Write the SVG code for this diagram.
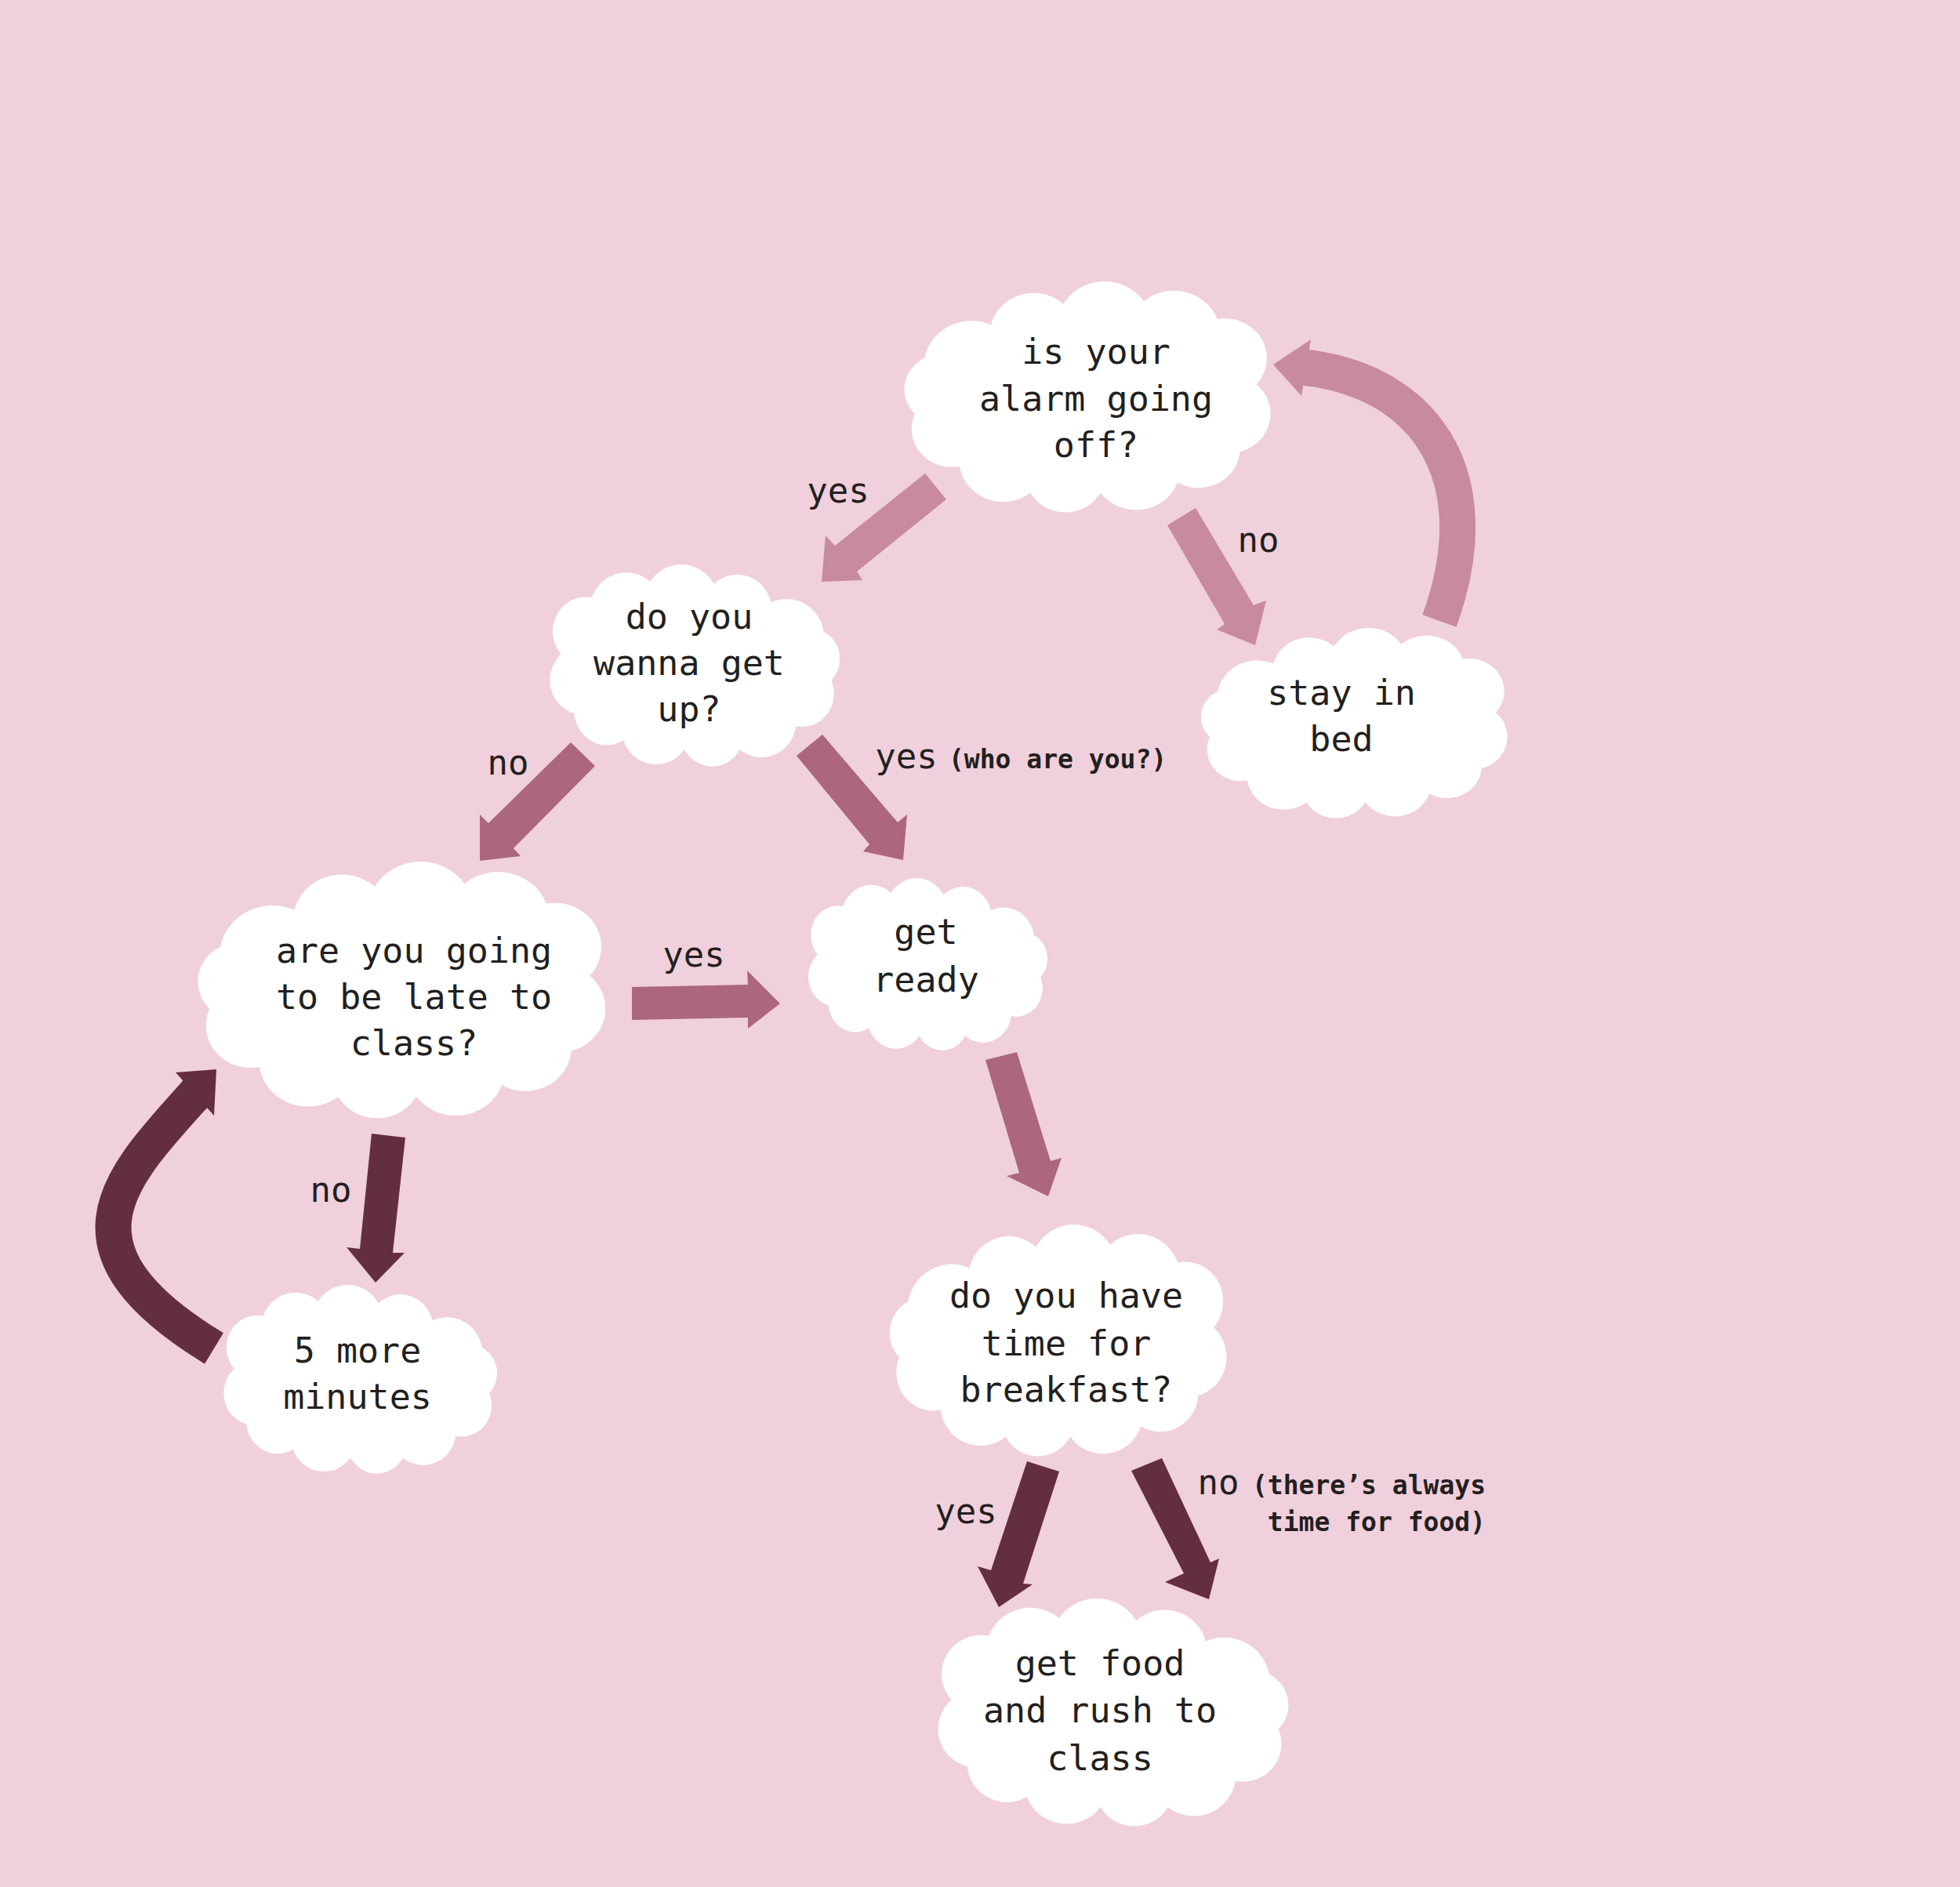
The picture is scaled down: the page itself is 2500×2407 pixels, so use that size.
<svg xmlns="http://www.w3.org/2000/svg" width="2500" height="2407" viewBox="0 0 2500 2407">
<style>
.t{font-family:"DejaVu Sans Mono","Liberation Mono",monospace;font-size:45px;fill:#231f20;text-anchor:middle}
.l{font-family:"DejaVu Sans Mono","Liberation Mono",monospace;font-size:44px;fill:#231f20;text-anchor:middle}
.s{font-family:"DejaVu Sans Mono","Liberation Mono",monospace;font-size:33px;font-weight:bold;fill:#231f20}
.a1{fill:#c78aa0}
.a2{fill:#ac6680}
.a3{fill:#642e42}
.c1{fill:none;stroke:#c78aa0;stroke-width:46}
.c3{fill:none;stroke:#642e42;stroke-width:46}
</style>
<defs>
<g id="cloud" fill="#ffffff">
<ellipse cx="0" cy="0" rx="115" ry="62"/>
<circle cx="-121" cy="-7" r="30"/>
<circle cx="-96" cy="-27" r="39"/>
<circle cx="-45" cy="-54" r="36"/>
<circle cx="13" cy="-61" r="39"/>
<circle cx="70" cy="-54" r="38"/>
<circle cx="112" cy="-34" r="34"/>
<circle cx="115" cy="14" r="34"/>
<circle cx="90" cy="44" r="34"/>
<circle cx="39" cy="61" r="36"/>
<circle cx="-19" cy="66" r="33"/>
<circle cx="-70" cy="54" r="36"/>
<circle cx="-112" cy="27" r="33"/>
</g>
</defs>
<rect x="0" y="0" width="2500" height="2407" fill="#f0d0dc"/>

<g id="connectors">
<polygon class="a1" points="1180,604 1065,696 1053,683 1048,742 1100,740 1093,729 1207,637"/>
<polygon class="a1" points="1489,670 1562,796 1552,803 1601,823 1615,766 1599,772 1525,648"/>
<path class="c1" d="M1836,792 C1904,604 1815,483 1658,468"/>
<polygon class="a1" points="1660,505 1624,465 1672,433"/>
<polygon class="a2" points="728,947 623,1050 612,1039 612,1098 664,1092 655,1082 759,977"/>
<polygon class="a2" points="1016,964 1109,1077 1101,1086 1152,1097 1157,1039 1145,1049 1049,937"/>
<polygon class="a2" points="806,1259 954,1256 953,1238 995,1280 954,1312 954,1298 806,1301"/>
<polygon class="a3" points="474,1446 459,1593 442,1591 479,1636 516,1598 501,1598 517,1451"/>
<path class="c3" d="M273,1720 C60,1590 154,1501 254,1390"/>
<polygon class="a3" points="224,1368 276,1364 273,1423"/>
<polygon class="a2" points="1257,1352 1300,1496 1284,1500 1337,1526 1354,1477 1340,1481 1297,1342"/>
<polygon class="a3" points="1310,1864 1264,2003 1247,1998 1274,2050 1317,2021 1305,2020 1351,1877"/>
<polygon class="a3" points="1443,1876 1510,2007 1486,2018 1542,2040 1555,1988 1544,1993 1482,1860"/>
</g>

<g id="labels">
<text class="l" x="1069" y="641">yes</text>
<text class="l" x="1605" y="704">no</text>
<text class="l" x="648" y="988">no</text>
<text class="l" x="1156" y="980">yes</text>
<text class="s" x="1210" y="980">(who are you?)</text>
<text class="l" x="885" y="1233">yes</text>
<text class="l" x="422" y="1533">no</text>
<text class="l" x="1232" y="1943">yes</text>
<text class="l" x="1554" y="1906">no</text>
<text class="s" x="1895" y="1906" text-anchor="end">(there’s always</text>
<text class="s" x="1895" y="1953" text-anchor="end">time for food)</text>
</g>

<g id="node-alarm">
<use href="#cloud" transform="translate(1388.5,507) scale(1.557,1.48)"/>
<text class="t" x="1398" y="464">is your</text>
<text class="t" x="1398" y="524">alarm going</text>
<text class="t" x="1398" y="583">off?</text>
</g>

<g id="node-getup">
<use href="#cloud" transform="translate(885,849.5) scale(-1.233,1.295)"/>
<text class="t" x="879" y="802">do you</text>
<text class="t" x="879" y="861">wanna get</text>
<text class="t" x="879" y="920">up?</text>
</g>

<g id="node-late">
<use href="#cloud" transform="translate(514,1263.5) scale(1.733,1.645)"/>
<text class="t" x="528" y="1228">are you going</text>
<text class="t" x="528" y="1287">to be late to</text>
<text class="t" x="528" y="1346">class?</text>
</g>

<g id="node-5more">
<use href="#cloud" transform="translate(458.5,1760) scale(-1.163,1.21)"/>
<text class="t" x="456" y="1738">5 more</text>
<text class="t" x="456" y="1797">minutes</text>
</g>

<g id="node-bed">
<use href="#cloud" transform="translate(1728.5,923) scale(1.303,1.22)"/>
<text class="t" x="1711" y="899">stay in</text>
<text class="t" x="1711" y="958">bed</text>
</g>

<g id="node-ready">
<use href="#cloud" transform="translate(1182.5,1230.5) scale(-1.017,1.105)"/>
<text class="t" x="1181" y="1204">get</text>
<text class="t" x="1181" y="1265">ready</text>
</g>

<g id="node-breakfast">
<use href="#cloud" transform="translate(1351,1710.5) scale(1.433,1.485)"/>
<text class="t" x="1360" y="1668">do you have</text>
<text class="t" x="1360" y="1729">time for</text>
<text class="t" x="1360" y="1788">breakfast?</text>
</g>

<g id="node-food">
<use href="#cloud" transform="translate(1418.5,2185) scale(-1.49,1.46)"/>
<text class="t" x="1403" y="2137">get food</text>
<text class="t" x="1403" y="2197">and rush to</text>
<text class="t" x="1403" y="2258">class</text>
</g>
</svg>
